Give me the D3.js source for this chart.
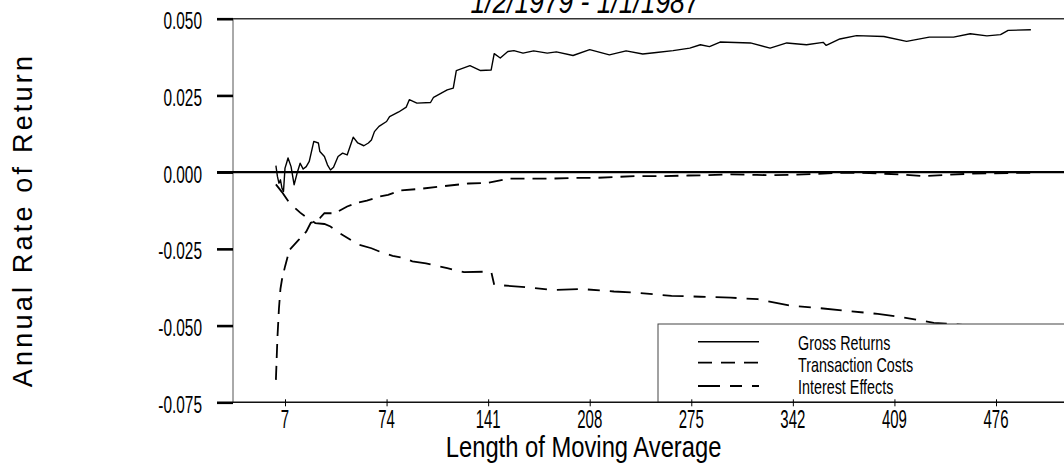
<!DOCTYPE html>
<html>
<head>
<meta charset="utf-8">
<script src="https://cdn.jsdelivr.net/npm/d3@7"></script>
<style>
  html, body { margin: 0; padding: 0; background: #fff; }
  svg { display: block; }
  text { font-family: "Liberation Sans", Arial, Helvetica, sans-serif; fill: #000; }
</style>
</head>
<body>
<svg id="chart" width="1064" height="469"></svg>
<script>
// ---- data ----
const chartTitle = "1/2/1979 - 1/1/1987";
const xTitle = "Length of Moving Average";
const yTitle = "Annual Rate of Return";

const xTicks = [7, 74, 141, 208, 275, 342, 409, 476];
const yTicks = [0.05, 0.025, 0, -0.025, -0.05, -0.075];
const yTickLabels = ["0.050", "0.025", "0.000", "-0.025", "-0.050", "-0.075"];

const seriesNames = ["Gross Returns", "Transaction Costs", "Interest Effects"];

const grossLen = [1,2,3,4,5,6,7,8,9,11,13,15,17,19,21,23,26,29,30,33,35,37,39,42,45,48,52,55,59,62,64,66,69,74,76,82,87,89,94,103,105,114,118,120,129,136,143,145,149,154,158,164,171,180,186,197,208,221,232,243,252,263,274,281,287,294,314,327,338,351,362,364,373,384,402,417,432,448,459,470,479,484,499];
const grossVal = [0.0021,-0.0014,-0.0036,-0.0025,-0.0052,-0.0063,0.0013,0.0029,0.0046,0.0018,-0.0041,-0.0003,0.0029,0.0010,0.0018,0.0035,0.0100,0.0095,0.0067,0.0051,0.0024,0.0007,0.0016,0.0051,0.0062,0.0056,0.0114,0.0095,0.0086,0.0095,0.0105,0.0132,0.0149,0.0165,0.0181,0.0196,0.0212,0.0236,0.0225,0.0227,0.0244,0.0268,0.0274,0.0331,0.0347,0.0331,0.0333,0.0386,0.0372,0.0393,0.0396,0.0388,0.0395,0.0388,0.0392,0.0380,0.0399,0.0382,0.0395,0.0385,0.0390,0.0396,0.0404,0.0415,0.0409,0.0424,0.0421,0.0404,0.0421,0.0415,0.0423,0.0413,0.0434,0.0445,0.0442,0.0426,0.0440,0.0440,0.0451,0.0444,0.0448,0.0462,0.0464];

const costLen = [1,2,3,4,5,7,10,16,21,24,27,30,33,40,48,54,61,69,75,83,97,111,128,141,155,169,183,197,211,228,239,256,273,284,301,318,329,345,362,373,384,401,415,429,446,460,474,491,499];
const costVal = [-0.0677,-0.0540,-0.0445,-0.0380,-0.0350,-0.0308,-0.0253,-0.0221,-0.0194,-0.0165,-0.0160,-0.0150,-0.0134,-0.0134,-0.0112,-0.0101,-0.0093,-0.0080,-0.0074,-0.0060,-0.0054,-0.0046,-0.0037,-0.0035,-0.0021,-0.0021,-0.0021,-0.0019,-0.0019,-0.0015,-0.0013,-0.0013,-0.0011,-0.0010,-0.0007,-0.0009,-0.0010,-0.0008,-0.0005,-0.0002,-0.0002,-0.0005,-0.0008,-0.0013,-0.0008,-0.0005,-0.0004,-0.0002,-0.0002];

const interestLen = [1,5,10,17,22,27,33,37,43,56,64,71,78,86,91,100,114,125,143,145,167,183,203,224,239,262,281,301,319,340,355,376,398,412,435,460,480,499];
const interestVal = [-0.0040,-0.0065,-0.0101,-0.0132,-0.0150,-0.0166,-0.0169,-0.0177,-0.0199,-0.0237,-0.0248,-0.0262,-0.0273,-0.0280,-0.0291,-0.0297,-0.0313,-0.0326,-0.0324,-0.0367,-0.0375,-0.0384,-0.0381,-0.0389,-0.0393,-0.0403,-0.0406,-0.0409,-0.0414,-0.0435,-0.0441,-0.0451,-0.0462,-0.0471,-0.0491,-0.0500,-0.0508,-0.0515];

// ---- layout ----
const svg = d3.select("#chart");
const plotLeft = 233, plotRight = 1080, plotTop = 18.7, plotBottom = 402.3;

const x = d3.scaleLinear().domain([7, 476]).range([285, 996]);
const y = d3.scaleLinear().domain([-0.075, 0.05]).range([plotBottom, plotTop]);

function squeezedText(g, px, py, str, size, sx, anchor, extra) {
  const t = g.append("text")
    .attr("transform", `translate(${px},${py}) scale(${sx},1)`)
    .attr("text-anchor", anchor)
    .attr("font-size", size)
    .text(str);
  if (extra) extra(t);
  return t;
}

const zip = (a, b) => a.map((d, i) => [d, b[i]]);
const line = d3.line().x(d => x(d[0])).y(d => y(d[1]));

const plot = svg.append("g");
plot.append("path").datum(zip(interestLen, interestVal))
  .attr("d", line).attr("fill", "none").attr("stroke", "#000")
  .attr("stroke-width", 1.8).attr("stroke-dasharray", "21,10,12,10");
plot.append("path").datum(zip(costLen, costVal))
  .attr("d", line).attr("fill", "none").attr("stroke", "#000")
  .attr("stroke-width", 1.8).attr("stroke-dasharray", "14,8");
plot.append("path").datum(zip(grossLen, grossVal))
  .attr("d", line).attr("fill", "none").attr("stroke", "#000")
  .attr("stroke-width", 1.4).attr("stroke-linejoin", "round");

// ---- legend ----
const leg = svg.append("g");
leg.append("rect").attr("x", 658).attr("y", 324).attr("width", 440).attr("height", plotBottom - 324)
  .attr("fill", "#fff").attr("stroke", "#444").attr("stroke-width", 1);
const legDash = [null, "14,9", "22,10,12,10"];
const legY = [341.7, 362.7, 386];
const legTextY = [349.5, 371.5, 394];
seriesNames.forEach((name, i) => {
  const l = leg.append("line").attr("x1", 698).attr("x2", 759)
    .attr("y1", legY[i]).attr("y2", legY[i])
    .attr("stroke", "#000").attr("stroke-width", i === 0 ? 1.6 : 1.8);
  if (legDash[i]) l.attr("stroke-dasharray", legDash[i]);
  squeezedText(leg, 798, legTextY[i], name, 20.5, 0.7, "start");
});

// ---- axes / frame ----
const axes = svg.append("g");
axes.append("line").attr("x1", plotLeft).attr("x2", plotRight).attr("y1", plotTop).attr("y2", plotTop)
  .attr("stroke", "#333").attr("stroke-width", 1.5);
axes.append("line").attr("x1", plotLeft).attr("x2", plotLeft).attr("y1", plotTop).attr("y2", plotBottom)
  .attr("stroke", "#555").attr("stroke-width", 1);
axes.append("line").attr("x1", plotLeft).attr("x2", plotRight).attr("y1", plotBottom).attr("y2", plotBottom)
  .attr("stroke", "#111").attr("stroke-width", 1.6);

const yAxis = d3.axisLeft(y).tickValues(yTicks).tickSize(16).tickSizeOuter(0).tickFormat("");
const yg = axes.append("g").attr("transform", `translate(${plotLeft},0)`).call(yAxis);
yg.select(".domain").remove();
yg.selectAll(".tick line").attr("stroke", "#000").attr("stroke-width", 2.6);

yTicks.forEach((v, i) => {
  squeezedText(axes, 202, y(v) + 10.5, yTickLabels[i], 23, 0.67, "end");
});

axes.append("line").attr("x1", 217).attr("x2", plotRight).attr("y1", y(0)).attr("y2", y(0))
  .attr("stroke", "#000").attr("stroke-width", 2.2);

const xAxis = d3.axisBottom(x).tickValues(xTicks).tickSize(7).tickSizeOuter(0).tickFormat("");
const xg = axes.append("g").attr("transform", `translate(0,${plotBottom - 3})`).call(xAxis);
xg.select(".domain").remove();
xg.selectAll(".tick line").attr("stroke", "#000").attr("stroke-width", 1);
xTicks.forEach(v => {
  squeezedText(axes, x(v), 428, String(v), 25, 0.6, "middle");
});

// titles
squeezedText(svg, 585, 13, chartTitle, 33, 0.8, "middle", t => t.attr("font-style", "italic"));
squeezedText(svg, 583.6, 457, xTitle, 29, 0.82, "middle");
svg.append("text")
  .attr("transform", "translate(32,220) rotate(-90)")
  .attr("text-anchor", "middle")
  .attr("font-size", 27)
  .attr("letter-spacing", 3.2)
  .text(yTitle);
</script>
</body>
</html>
